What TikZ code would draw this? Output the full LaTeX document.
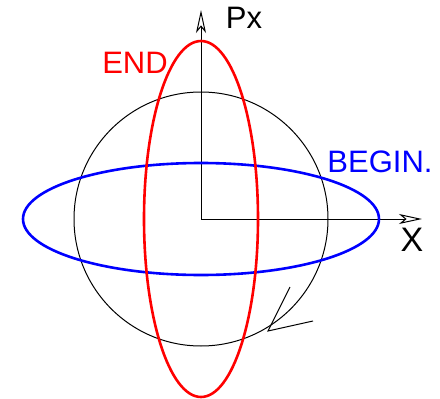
\documentclass[tikz,border=0pt]{standalone}
\usepackage{fontspec}
\setmainfont{Liberation Sans}
\usetikzlibrary{arrows.meta}

\tikzset{
  axis/.style={line width=1pt, -{Stealth[open, length=23pt, width=10pt, inset=6pt]}},
  orbit/.style={line width=2.6pt},
  lbl/.style={font=\fontsize{31}{31}\selectfont, inner sep=0pt}
}

\begin{document}
\begin{tikzpicture}[x=1pt, y=-1pt]
\useasboundingbox (0,0) rectangle (440,399);
\coordinate (O) at (201,219);
\coordinate (ytip) at (201,10);
\coordinate (xtip) at (422,219);
% sphere and axes
\draw[line width=1pt] (O) circle[radius=127];
\draw[axis] (O) -- (ytip);
\draw[axis] (O) -- (xtip);
% the two orbits
\draw[orbit, blue] (O) ellipse[x radius=178, y radius=56];
\draw[orbit, red] (O) ellipse[x radius=57, y radius=178];
% rotation mark on the sphere
\coordinate (tip) at (268,331);
\draw[line width=1pt] (290,287) -- (tip) -- (313,321);
% labels
\node[lbl] (px) at (244,18) {Px};
\node[lbl, font=\fontsize{34}{34}\selectfont] (xl) at (412,240) {X};
\node[lbl, red] (endl) at (135,63) {END};
\node[lbl, blue] (begl) at (380,162) {BEGIN.};
\end{tikzpicture}
\end{document}
